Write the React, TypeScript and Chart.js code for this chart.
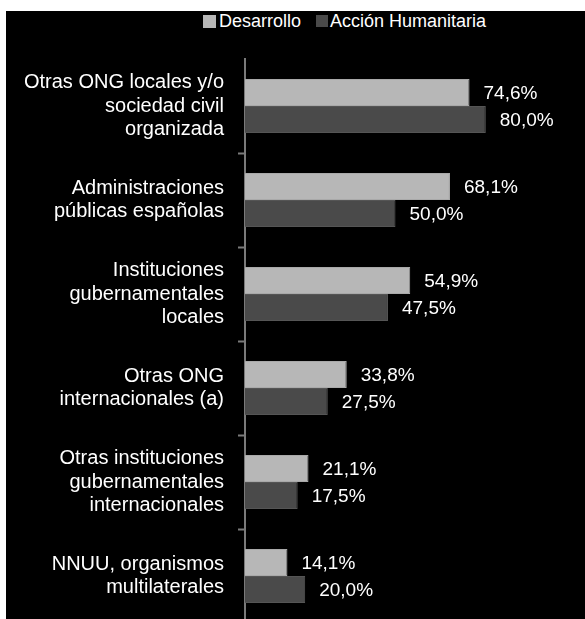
import React, { useEffect, useRef } from "react";
import { Chart, registerables } from "chart.js";

Chart.register(...registerables);

const categories: string[][] = [
  ["Otras ONG locales y/o", "sociedad civil", "organizada"],
  ["Administraciones", "públicas españolas"],
  ["Instituciones", "gubernamentales", "locales"],
  ["Otras ONG", "internacionales (a)"],
  ["Otras instituciones", "gubernamentales", "internacionales"],
  ["NNUU, organismos", "multilaterales"],
];
const desarrollo: number[] = [74.6, 68.1, 54.9, 33.8, 21.1, 14.1];
const accionHumanitaria: number[] = [80.0, 50.0, 47.5, 27.5, 17.5, 20.0];
const seriesNames: string[] = ["Desarrollo", "Acción Humanitaria"];

const LIGHT = "#b7b7b7";
const DARK = "#4a4a4a";
const AXIS = "#7a7a7a";
const FONT = "'Liberation Sans', Arial, Helvetica, sans-serif";

const fmt = (v: number) => v.toFixed(1).replace(".", ",") + "%";

const valueLabels = {
  id: "valueLabels",
  afterDatasetsDraw(chart: any) {
    const ctx = chart.ctx;
    ctx.save();
    ctx.fillStyle = "#ffffff";
    ctx.font = `19px ${FONT}`;
    ctx.textAlign = "left";
    ctx.textBaseline = "middle";
    chart.data.datasets.forEach((ds: any, di: number) => {
      const meta = chart.getDatasetMeta(di);
      meta.data.forEach((el: any, i: number) => {
        ctx.fillText(fmt(ds.data[i]), el.x + 14, el.y + 1);
      });
    });
    ctx.restore();
  },
};

export default function App() {
  const ref = useRef<HTMLCanvasElement | null>(null);
  useEffect(() => {
    if (!ref.current) return;
    const chart = new Chart(ref.current, {
      type: "bar",
      data: {
        labels: categories,
        datasets: [
          {
            label: seriesNames[0],
            data: desarrollo,
            backgroundColor: LIGHT,
            borderColor: "#a9a9a9",
            borderWidth: 1,
          },
          {
            label: seriesNames[1],
            data: accionHumanitaria,
            backgroundColor: DARK,
            borderColor: "#555555",
            borderWidth: 1,
          },
        ],
      },
      options: {
        indexAxis: "y",
        responsive: false,
        animation: false,
        devicePixelRatio: 1,
        layout: { padding: { top: 48, right: 39, bottom: 0, left: 0 } },
        datasets: { bar: { categoryPercentage: 0.576, barPercentage: 1 } },
        plugins: {
          legend: { display: false },
          tooltip: { enabled: false },
        },
        scales: {
          x: { display: false, min: 0, max: 100 },
          y: {
            afterFit: (scale: any) => {
              scale.width = 239;
              scale.paddingTop = 0;
              scale.paddingBottom = 0;
            },
            grid: {
              drawOnChartArea: false,
              drawTicks: true,
              tickLength: 7,
              tickWidth: 2,
              color: (c: any) => (c.index === 0 ? "rgba(0,0,0,0)" : AXIS),
              offset: true,
            },
            border: { display: true, color: AXIS, width: 2 },
            ticks: {
              color: "#ffffff",
              padding: 14,
              font: { family: FONT, size: 20, lineHeight: 1.17 },
              autoSkip: false,
            },
          },
        },
      },
      plugins: [valueLabels],
    } as any);
    return () => chart.destroy();
  }, []);

  return (
    <div
      style={{
        position: "fixed",
        left: 0,
        top: 0,
        width: 585,
        height: 619,
        overflow: "hidden",
        background: "#ffffff",
      }}
    >
      <div
        style={{
          position: "absolute",
          left: 6,
          top: 11,
          width: 579,
          height: 620,
          background: "#000000",
        }}
      >
        <div
          style={{
            position: "absolute",
            left: 197,
            top: -1,
            display: "flex",
            alignItems: "center",
            fontFamily: FONT,
            fontSize: 18,
            color: "#ffffff",
            lineHeight: "22px",
            whiteSpace: "nowrap",
          }}
        >
          <span style={{ display: "inline-block", width: 13, height: 13, background: LIGHT, marginRight: 3 }} />
          <span style={{ marginRight: 15 }}>{seriesNames[0]}</span>
          <span style={{ display: "inline-block", width: 12, height: 12, background: DARK, marginRight: 2 }} />
          <span>{seriesNames[1]}</span>
        </div>
        <canvas
          ref={ref}
          width={579}
          height={612}
          style={{ position: "absolute", left: 0, top: 0, width: 579, height: 612 }}
        />
      </div>
    </div>
  );
}
